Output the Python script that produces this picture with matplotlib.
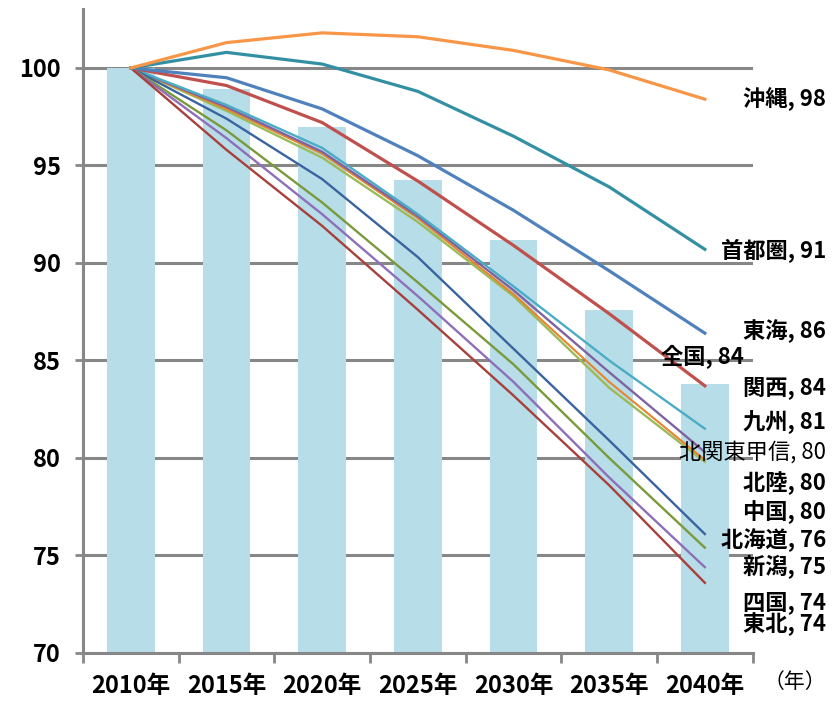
import matplotlib
matplotlib.use('Agg')
import matplotlib.pyplot as plt

plt.rcParams['font.family'] = ['Noto Sans CJK JP', 'DejaVu Sans']

# 地域別将来推計人口（2010年=100）
years = ['2010年', '2015年', '2020年', '2025年', '2030年', '2035年', '2040年']

zenkoku = [100, 98.9, 96.97, 94.26, 91.18, 87.6, 83.8]

okinawa = [100, 101.3, 101.8, 101.6, 100.9, 99.9, 98.4]
shutoken = [100, 100.8, 100.2, 98.8, 96.5, 93.9, 90.7]
tokai = [100, 99.5, 97.9, 95.5, 92.7, 89.6, 86.4]
kansai = [100, 99.1, 97.2, 94.2, 90.9, 87.4, 83.7]
kyushu = [100, 98.1, 95.9, 92.5, 88.8, 85.0, 81.5]
kitakanto = [100, 98.0, 95.7, 92.4, 88.6, 84.4, 80.3]
hokuriku = [100, 97.9, 95.6, 92.3, 88.4, 83.9, 79.9]
chugoku = [100, 97.8, 95.4, 92.1, 88.3, 83.6, 79.8]
hokkaido = [100, 97.4, 94.3, 90.3, 85.6, 80.9, 76.1]
niigata = [100, 96.8, 93.1, 89.0, 84.8, 80.0, 75.4]
shikoku = [100, 96.4, 92.5, 88.3, 83.9, 79.0, 74.4]
tohoku = [100, 95.8, 91.9, 87.6, 83.2, 78.6, 73.6]

# (系列, 色, 線幅)
series = [
    (chugoku, '#9BBB59', 1.7),
    (hokuriku, '#E8842E', 1.5),
    (kitakanto, '#7F63A1', 1.7),
    (kyushu, '#4BACC6', 1.7),
    (hokkaido, '#3A64A0', 1.7),
    (niigata, '#7A9A3C', 1.7),
    (shikoku, '#8E6FB8', 1.7),
    (tohoku, '#A8403C', 1.7),
    (kansai, '#C0504D', 2.3),
    (tokai, '#4F81BD', 2.3),
    (shutoken, '#3390A3', 2.3),
    (okinawa, '#F79646', 2.3),
]

# 右側のラベル（表示位置の値と太字かどうか）
labels = [
    ('沖縄, 98', 98.4, 'bold'),
    ('首都圏, 91', 90.6, 'bold'),
    ('東海, 86', 86.5, 'bold'),
    ('関西, 84', 83.6, 'bold'),
    ('九州, 81', 81.9, 'bold'),
    ('北関東甲信, 80', 80.3, 'normal'),
    ('北陸, 80', 78.7, 'bold'),
    ('中国, 80', 77.2, 'bold'),
    ('北海道, 76', 75.8, 'bold'),
    ('新潟, 75', 74.4, 'bold'),
    ('四国, 74', 72.6, 'bold'),
    ('東北, 74', 71.5, 'bold'),
]

grid_color = '#878787'

fig = plt.figure(figsize=(8.34, 7.01), dpi=100)
ax = fig.add_axes([0.0995, 0.0685, 0.803, 0.918])

x = list(range(len(years)))

ax.set_axisbelow(True)
ax.yaxis.grid(True, color=grid_color, linewidth=2.2)
ax.bar(x, zenkoku, width=0.5, color='#B7DDE8', zorder=1)

for vals, col, lw in series:
    ax.plot(x, vals, color=col, linewidth=lw, zorder=3)

ax.set_xlim(-0.5, 6.5)
ax.set_ylim(70, 103)
ax.set_yticks([70, 75, 80, 85, 90, 95, 100])
ax.set_yticklabels(['70', '75', '80', '85', '90', '95', '100'],
                   fontsize=17, fontweight='bold')

# 目盛りは区切り位置、ラベルは各年の中央
ax.set_xticks([i - 0.5 for i in range(len(years) + 1)])
ax.set_xticklabels([])
ax.set_xticks(x, minor=True)
ax.set_xticklabels(years, minor=True, fontsize=17, fontweight='bold')
ax.tick_params(axis='x', which='minor', length=0, pad=15)
ax.tick_params(axis='x', which='major', length=7, width=2, color=grid_color)
ax.tick_params(axis='y', length=6, width=2, color=grid_color, pad=10)

for s in ['top', 'right']:
    ax.spines[s].set_visible(False)
for s in ['left', 'bottom']:
    ax.spines[s].set_color(grid_color)
    ax.spines[s].set_linewidth(2.2)

for txt, yv, w in labels:
    ax.text(7.27, yv, txt, ha='right', va='center', fontsize=16,
            fontweight=w, zorder=5)

ax.text(5.97, 85.2, '全国, 84', ha='center', va='center', fontsize=16,
        fontweight='bold', zorder=5)

fig.text(0.953, 0.027, '（年）', ha='center', va='center', fontsize=15)

plt.savefig('out.png', dpi=100)
